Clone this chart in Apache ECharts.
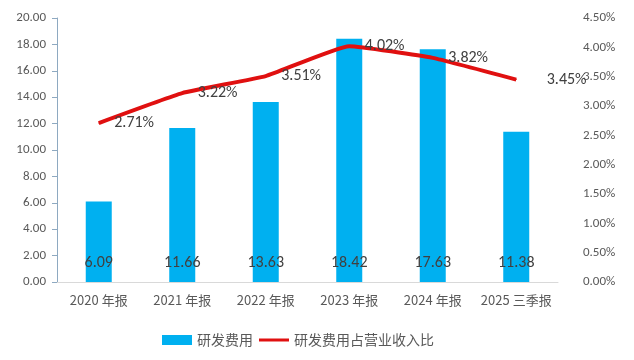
<!DOCTYPE html>
<html><head><meta charset="utf-8">
<script src="https://cdn.jsdelivr.net/npm/echarts@6/dist/echarts.min.js"></script>
<style>html,body{margin:0;padding:0;background:#fff}#c{width:634px;height:360px}</style>
</head><body><div id="c"></div>
<script>
const categories = ['2020 年报','2021 年报','2022 年报','2023 年报','2024 年报','2025 三季报'];
const rdExpense = [6.09, 11.66, 13.63, 18.42, 17.63, 11.38];
const rdRatio = [2.71, 3.22, 3.51, 4.02, 3.82, 3.45];
const leftTicks = {min: 0, max: 20, interval: 2};
const rightTicks = {min: 0, max: 4.5, interval: 0.5};

const font = 'Calibri, "Liberation Sans", "Noto Sans CJK SC", sans-serif';
const lineColor = '#E01010';
const chart = echarts.init(document.getElementById('c'));
chart.setOption({
  animation: false,
  textStyle: {fontFamily: font},
  grid: {left: 57, right: 76, top: 18, bottom: 78, containLabel: false, outerBoundsMode: 'none'},
  legend: {
    left: 157, top: 328, itemGap: 6, itemWidth: 30, itemHeight: 10,
    textStyle: {fontSize: 14, color: '#595959', fontFamily: '"Noto Sans CJK SC", sans-serif'},
    data: [
      {name: '研发费用', icon: 'rect'},
      {name: '研发费用占营业收入比', icon: 'path://M0,0 M0,3.5 L30,3.5 L30,6.5 L0,6.5 Z M30,10',
       itemStyle: {color: lineColor}}
    ]
  },
  xAxis: {
    type: 'category', data: categories,
    axisLine: {lineStyle: {color: '#d9d9d9'}},
    axisTick: {show: false},
    axisLabel: {interval: 0, color: '#595959', fontSize: 13, margin: 12, fontFamily: '"Noto Sans CJK SC", sans-serif'}
  },
  yAxis: [{
    type: 'value', min: leftTicks.min, max: leftTicks.max, interval: leftTicks.interval,
    axisLine: {show: true, lineStyle: {color: '#8ea9c1'}},
    axisTick: {show: true, length: 5, lineStyle: {color: '#8ea9c1'}},
    splitLine: {show: false},
    axisLabel: {color: '#595959', fontSize: 13, margin: 11, formatter: v => v.toFixed(2)}
  }, {
    type: 'value', min: rightTicks.min, max: rightTicks.max, interval: rightTicks.interval,
    axisLine: {show: false}, axisTick: {show: false}, splitLine: {show: false},
    axisLabel: {color: '#595959', fontSize: 13, margin: 25, formatter: v => v.toFixed(2) + '%'}
  }],
  series: [{
    name: '研发费用', type: 'bar', data: rdExpense, barWidth: 26,
    itemStyle: {color: '#00B0F0'},
    label: {show: true, position: 'insideBottom', distance: 11, color: '#404040', fontSize: 16,
      formatter: p => p.value.toFixed(2)}
  }, {
    name: '研发费用占营业收入比', type: 'line', yAxisIndex: 1, smooth: 0.12,
    symbol: 'circle', symbolSize: 1, showSymbol: true,
    lineStyle: {color: lineColor, width: 4},
    itemStyle: {color: lineColor},
    data: rdRatio.map((v, i) => i === rdRatio.length - 1
      ? {value: v, label: {distance: 30}} : {value: v}),
    label: {show: true, position: 'right', distance: 15, color: '#404040', fontSize: 16,
      formatter: p => p.value.toFixed(2) + '%'}
  }]
});
</script></body></html>
